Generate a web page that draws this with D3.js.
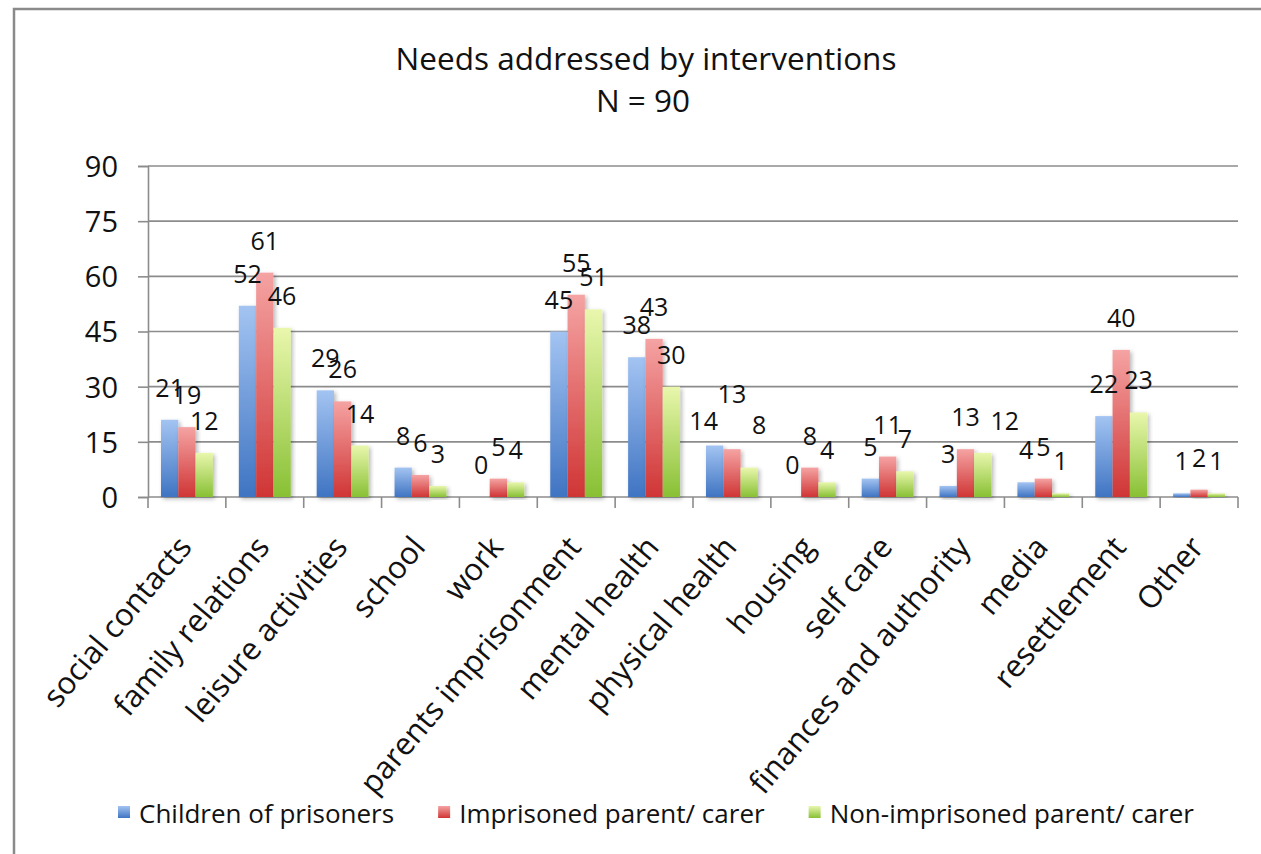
<!DOCTYPE html>
<html>
<head>
<meta charset="utf-8">
<script src="https://cdn.jsdelivr.net/npm/d3@7/dist/d3.min.js"></script>
<style>
  html, body { margin: 0; padding: 0; background: #ffffff; }
  svg { display: block; }
  text { font-family: "Open Sans", "Noto Sans", sans-serif; fill: #111; }
</style>
</head>
<body>
<svg id="chart" width="1261" height="854"></svg>
<script>
// ---- data ----
const categories = ["social contacts", "family relations", "leisure activities", "school", "work",
  "parents imprisonment", "mental health", "physical health", "housing", "self care",
  "finances and authority", "media", "resettlement", "Other"];
const seriesNames = ["Children of prisoners", "Imprisoned parent/ carer", "Non-imprisoned parent/ carer"];
const childrenOfPrisoners = [21, 52, 29, 8, 0, 45, 38, 14, 0, 5, 3, 4, 22, 1];
const imprisonedParent = [19, 61, 26, 6, 5, 55, 43, 13, 8, 11, 13, 5, 40, 2];
const nonImprisonedParent = [12, 46, 14, 3, 4, 51, 30, 8, 4, 7, 12, 1, 23, 1];
const yTicks = [0, 15, 30, 45, 60, 75, 90];
const titleLines = ["Needs addressed by interventions", "N = 90"];

// ---- styling / layout ----
const seriesValues = [childrenOfPrisoners, imprisonedParent, nonImprisonedParent];
const gradStops = [
  ["#a3c4f2", "#3f74c2"],
  ["#f5a3a3", "#d03535"],
  ["#e9f7ad", "#88c034"]
];
// manual label displacements (as in the original chart) keyed "category|seriesIndex"
const labelNudge = {
  "physical health|0": [-11, 7],
  "physical health|1": [0, -23],
  "physical health|2": [10, -11],
  "finances and authority|2": [22, 0]
};

const svg = d3.select("#chart");
const plot = { left: 148, right: 1238, top: 166, bottom: 497 };

// frame
svg.append("rect").attr("x", 14).attr("y", 9).attr("width", 1400).attr("height", 1000)
  .attr("fill", "#fff").attr("stroke", "#8a8a8a").attr("stroke-width", 2.5);

const defs = svg.append("defs");
gradStops.forEach((g, i) => {
  const lg = defs.append("linearGradient").attr("id", "grad" + i)
    .attr("x1", 0).attr("y1", 0).attr("x2", 0).attr("y2", 1);
  lg.append("stop").attr("offset", "0%").attr("stop-color", g[0]);
  lg.append("stop").attr("offset", "100%").attr("stop-color", g[1]);
});
const f = defs.append("filter").attr("id", "shadow").attr("x", "-30%").attr("y", "-10%")
  .attr("width", "160%").attr("height", "130%");
f.append("feDropShadow").attr("dx", 2).attr("dy", 2).attr("stdDeviation", 2)
  .attr("flood-color", "#000").attr("flood-opacity", 0.28);

// scales
const x = d3.scaleBand().domain(categories).range([plot.left, plot.right])
  .paddingInner(1 / 3).paddingOuter(1 / 6);
const xs = d3.scaleBand().domain(d3.range(seriesValues.length)).range([0, x.bandwidth()]);
const y = d3.scaleLinear().domain([0, 90]).range([plot.bottom, plot.top]);

// title
const title = svg.append("g");
title.append("text").attr("x", 646).attr("y", 70).attr("text-anchor", "middle")
  .style("font-size", "31.5px").text(titleLines[0]);
title.append("text").attr("x", 643).attr("y", 112).attr("text-anchor", "middle")
  .style("font-size", "31.5px").text(titleLines[1]);

// gridlines
svg.append("g").selectAll("line").data(yTicks).join("line")
  .attr("x1", plot.left).attr("x2", plot.right)
  .attr("y1", d => y(d)).attr("y2", d => y(d))
  .attr("stroke", "#8c8c8c").attr("stroke-width", 1.6);

// y axis
const yAxis = svg.append("g").attr("transform", `translate(${plot.left},0)`)
  .call(d3.axisLeft(y).tickValues(yTicks).tickSize(10).tickPadding(20));
yAxis.select(".domain").attr("stroke", "#8c8c8c").attr("stroke-width", 1.6);
yAxis.selectAll(".tick line").attr("stroke", "#8c8c8c").attr("stroke-width", 1.6);
yAxis.selectAll(".tick text").style("font-size", "29px").style("font-family", "'Open Sans', sans-serif")
  .attr("fill", "#111").attr("dy", "0.36em");

// x axis ticks at band boundaries
const boundaries = d3.range(categories.length + 1).map(i =>
  (i < categories.length ? x(categories[i]) : x(categories[i - 1]) + x.step()) - x.step() * x.paddingInner() / 2);
svg.append("g").selectAll("line").data(boundaries).join("line")
  .attr("x1", d => d).attr("x2", d => d).attr("y1", plot.bottom).attr("y2", plot.bottom + 11)
  .attr("stroke", "#8c8c8c").attr("stroke-width", 1.6);

// category labels
svg.append("g").selectAll("text").data(categories).join("text")
  .attr("text-anchor", "end")
  .attr("transform", d => `translate(${x(d) + x.bandwidth() / 2 - 2},${plot.bottom + 44}) rotate(-50)`)
  .attr("dy", "0.35em")
  .style("font-size", "31px")
  .text(d => d);

// bars
const groups = svg.append("g").selectAll("g").data(categories).join("g")
  .attr("transform", d => `translate(${x(d)},0)`);
groups.selectAll("rect")
  .data((c, ci) => seriesValues.map((vals, si) => ({ c, si, v: vals[ci] })))
  .join("rect")
  .attr("x", d => xs(d.si)).attr("width", xs.bandwidth())
  .attr("y", d => y(d.v)).attr("height", d => y(0) - y(d.v))
  .attr("fill", d => `url(#grad${d.si})`)
  .attr("filter", "url(#shadow)");

// value labels
groups.selectAll("text.val")
  .data((c, ci) => seriesValues.map((vals, si) => ({ c, si, v: vals[ci] })))
  .join("text").attr("class", "val")
  .attr("text-anchor", "middle")
  .attr("x", d => xs(d.si) + xs.bandwidth() / 2 + (labelNudge[d.c + "|" + d.si] || [0, 0])[0])
  .attr("y", d => y(d.v) - 23 + (labelNudge[d.c + "|" + d.si] || [0, 0])[1])
  .style("font-size", "25px")
  .text(d => d.v);

// legend
const legend = svg.append("g");
let lx = 118;
seriesNames.forEach((name, i) => {
  legend.append("rect").attr("x", lx).attr("y", 806).attr("width", 12).attr("height", 12)
    .attr("fill", `url(#grad${i})`);
  const t = legend.append("text").attr("x", lx + 21).attr("y", 823)
    .style("font-size", "26px").text(name);
  lx += 21 + t.node().getComputedTextLength() + 44;
});
</script>
</body>
</html>
